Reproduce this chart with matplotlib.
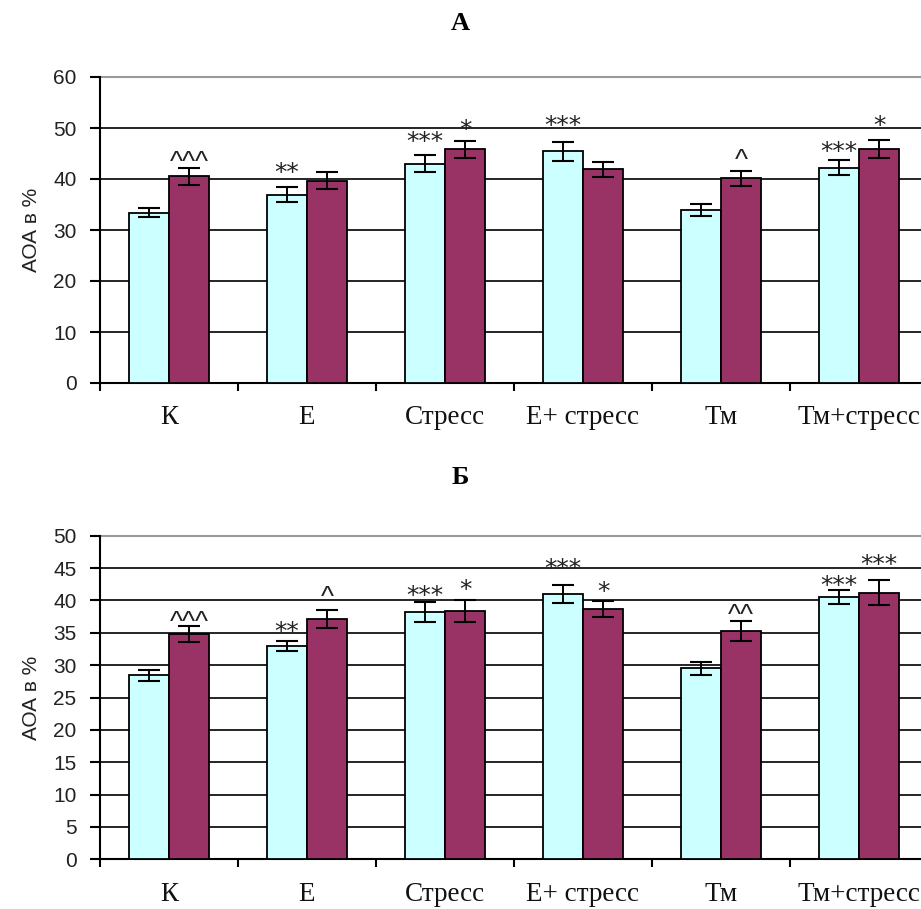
import matplotlib
matplotlib.use("Agg")
import matplotlib.pyplot as plt
import numpy as np

categories = ["К", "Е", "Стресс", "Е+ стресс", "Тм", "Тм+стресс"]

# Panel A
a_light = [33.4, 36.9, 43.0, 45.4, 33.9, 42.2]
a_light_err = [0.9, 1.5, 1.7, 1.8, 1.2, 1.5]
a_dark = [40.5, 39.7, 45.8, 41.9, 40.1, 45.9]
a_dark_err = [1.7, 1.6, 1.6, 1.5, 1.5, 1.8]
a_light_marks = ["", "**", "***", "***", "", "***"]
a_light_mark_y = [None, 42.2, 48.2, 51.4, None, 46.3]
a_dark_marks = ["^^^", "", "*", "", "^", "*"]
a_dark_mark_y = [44.3, None, 50.6, None, 44.7, 51.4]

# Panel B
b_light = [28.4, 33.0, 38.2, 41.0, 29.5, 40.5]
b_light_err = [0.8, 0.8, 1.6, 1.4, 0.95, 1.1]
b_dark = [34.8, 37.1, 38.3, 38.7, 35.3, 41.2]
b_dark_err = [1.3, 1.4, 1.7, 1.25, 1.5, 1.9]
b_light_marks = ["", "**", "***", "***", "", "***"]
b_light_mark_y = [None, 35.9, 41.4, 45.6, None, 43.0]
b_dark_marks = ["^^^", "^", "*", "*", "^^", "***"]
b_dark_mark_y = [37.3, 41.2, 42.4, 42.0, 38.4, 46.2]

LIGHT = "#CCFFFF"
DARK = "#993366"

fig = plt.figure(figsize=(9.21, 9.09), dpi=100)

W = 921.0
H = 909.0


def put_mark(ax, xpos, ypos, s):
    # visual centring: asterisks/carets sit high in the glyph box
    if "*" in s:
        ax.annotate(s, (xpos, ypos), xytext=(0, -3.5), textcoords="offset points",
                    ha="center", va="center", fontsize=18, family="DejaVu Sans",
                    color="#222222", zorder=5)
    else:
        ax.annotate(s, (xpos, ypos), xytext=(0, -4), textcoords="offset points",
                    ha="center", va="center", fontsize=20, family="Liberation Sans",
                    color="#222222", zorder=5)


def panel(rect, light, lerr, dark, derr, lmarks, lmy, dmarks, dmy, ymax, ystep, title, title_y):
    ax = fig.add_axes(rect)
    x = np.arange(len(categories))
    w = 0.29
    ax.bar(x - w / 2, light, w, color=LIGHT, edgecolor="black", linewidth=1.3, zorder=3)
    ax.bar(x + w / 2, dark, w, color=DARK, edgecolor="black", linewidth=1.3, zorder=3)
    ax.errorbar(x - w / 2, light, yerr=lerr, fmt="none", ecolor="black",
                elinewidth=1.4, capsize=8, capthick=1.5, zorder=4)
    ax.errorbar(x + w / 2, dark, yerr=derr, fmt="none", ecolor="black",
                elinewidth=1.4, capsize=8, capthick=1.5, zorder=4)
    for i in range(len(categories)):
        if lmarks[i]:
            put_mark(ax, x[i] - w / 2, lmy[i], lmarks[i])
        if dmarks[i]:
            put_mark(ax, x[i] + w / 2, dmy[i], dmarks[i])
    ax.set_xlim(-0.5, len(categories) - 0.5)
    ax.set_ylim(0, ymax)
    yt = np.arange(0, ymax + 0.1, ystep)
    ax.set_yticks(yt)
    ax.set_yticklabels([f"{int(v)}" for v in yt], fontsize=15, family="Liberation Sans",
                       color="#222222")
    for v in yt[1:-1]:
        ax.axhline(v, color="black", linewidth=1.2, zorder=1)
    ax.axhline(ymax, color="#999999", linewidth=1.5, zorder=1, clip_on=False)
    ax.set_xticks(np.arange(-0.5, len(categories), 1.0))
    ax.set_xticklabels([])
    ax.set_xticks(x, minor=True)
    ax.set_xticklabels(categories, minor=True, fontsize=19.5, family="Liberation Serif",
                       color="#111111")
    ax.tick_params(axis="x", which="minor", length=0, pad=16)
    ax.tick_params(axis="x", which="major", length=6, width=1.5, direction="out")
    ax.tick_params(axis="y", length=7, width=1.5, direction="out", pad=10)
    for s in ["top", "right"]:
        ax.spines[s].set_visible(False)
    ax.spines["left"].set_linewidth(1.5)
    ax.spines["bottom"].set_linewidth(1.5)
    ax.set_ylabel("АОА в %", fontsize=15, family="Liberation Sans", labelpad=9,
                  color="#222222")
    fig.text(0.5, title_y, title, ha="center", va="center", fontsize=19,
             family="Liberation Serif", fontweight="bold")
    return ax


left = 100 / W
width = 828 / W
panel([left, (H - 383) / H, width, (383 - 77) / H],
      a_light, a_light_err, a_dark, a_dark_err,
      a_light_marks, a_light_mark_y, a_dark_marks, a_dark_mark_y,
      60, 10, "А", 1 - 24 / H)
panel([left, (H - 859.3) / H, width, (859.3 - 535.7) / H],
      b_light, b_light_err, b_dark, b_dark_err,
      b_light_marks, b_light_mark_y, b_dark_marks, b_dark_mark_y,
      50, 5, "Б", 1 - 478 / H)

fig.savefig("out.png", dpi=100)
